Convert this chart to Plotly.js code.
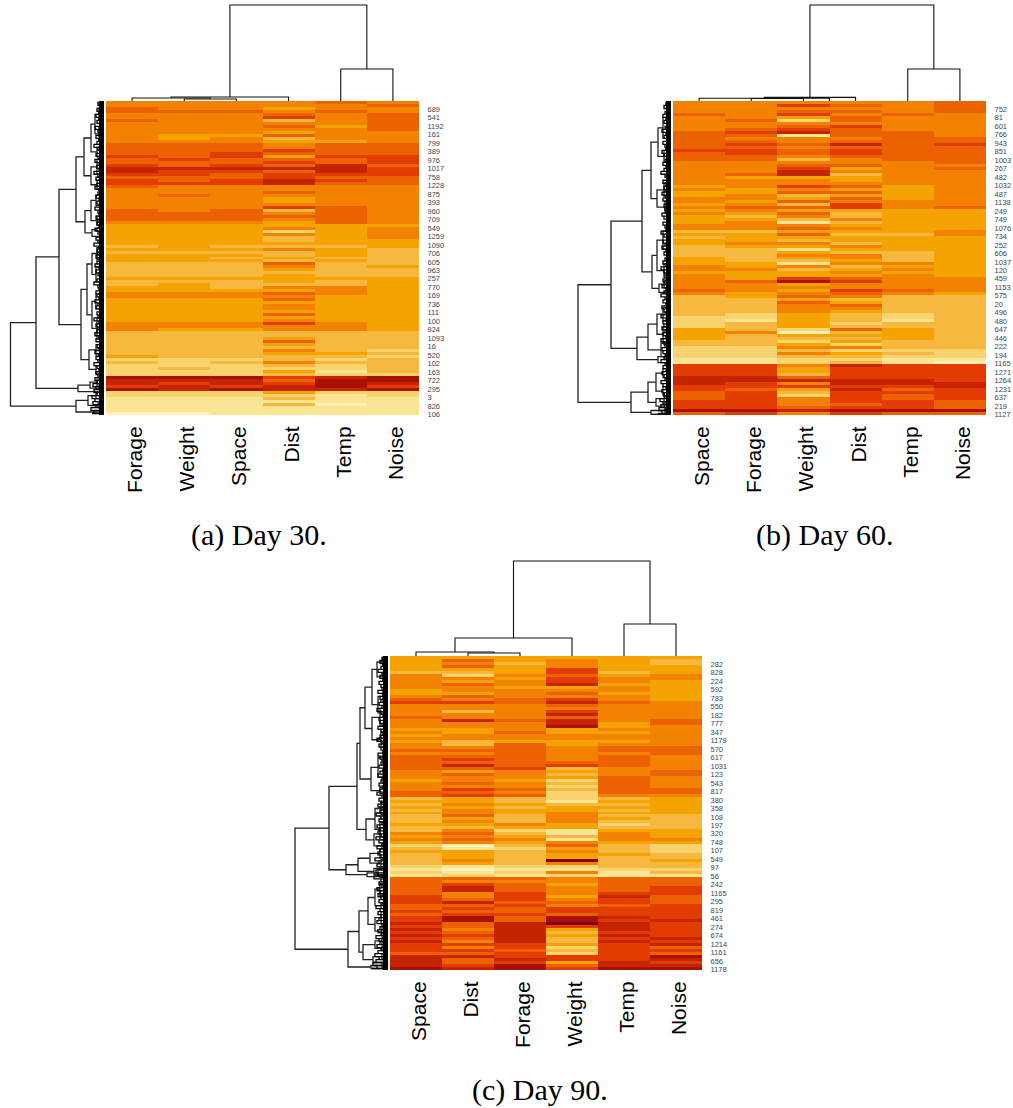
<!DOCTYPE html>
<html><head><meta charset="utf-8">
<script src="https://cdn.plot.ly/plotly-3.0.1.min.js"></script>
<style>html,body{margin:0;padding:0;background:#fff}</style></head>
<body><div id="chart" style="width:1013px;height:1108px"></div>
<script>
// Colour levels of the heat map, palest to darkest
const levelColors = ['#FEF2B6','#FBE594','#F8D36E','#F6B83E','#F5A300','#F38200','#ED6200','#E23C00','#C42400','#A81000','#80001F'];

// Day 30 (rows top to bottom, one array per column)
const d30Names = ['Forage','Weight','Space','Dist','Temp','Noise'];
const d30Forage = [5,5,6,6,5,5,6,5,5,5,5,5,5,5,6,6,6,6,7,6,6,7,8,8,7,6,7,7,6,5,5,5,5,5,5,5,6,6,6,6,5,4,4,4,4,4,4,4,3,4,3,4,4,4,3,3,3,3,3,4,3,3,4,4,5,5,4,4,4,4,4,4,4,4,5,5,5,3,3,3,3,3,3,3,3,4,2,3,2,2,2,2,9,8,8,7,9,2,2,1,1,1,1,1,0];
const d30Weight = [5,5,5,6,5,5,5,5,5,5,5,4,4,5,6,6,6,6,6,7,6,6,8,7,7,6,6,7,5,5,5,6,5,5,5,5,5,6,6,6,5,4,4,4,4,4,4,4,4,4,3,4,4,4,3,3,3,3,3,4,3,4,4,4,5,5,4,4,4,4,4,4,4,4,5,5,4,3,3,3,3,3,3,3,3,3,2,2,2,3,2,2,9,8,7,8,8,2,2,1,1,1,1,1,0];
const d30Space = [5,5,5,6,5,5,5,5,5,5,5,4,5,5,6,6,6,7,7,6,6,7,8,7,6,6,7,7,5,5,5,5,5,5,5,5,6,6,6,6,5,4,4,4,4,4,4,4,3,4,3,4,3,4,3,3,3,3,3,4,3,3,3,4,5,5,4,4,4,4,4,4,4,4,5,5,4,3,3,3,3,3,3,3,3,3,2,3,2,2,2,2,9,8,8,7,9,2,2,1,1,1,1,1,1];
const d30Dist = [5,5,4,5,6,7,3,5,6,5,4,6,3,4,5,5,7,6,4,6,7,6,8,6,7,7,8,8,5,5,6,5,4,4,5,7,3,5,6,5,4,4,5,2,5,3,3,4,3,5,3,3,4,3,6,5,4,3,4,4,4,3,5,4,6,5,6,4,5,5,4,6,4,5,7,5,5,3,3,4,6,4,3,5,4,3,3,5,3,2,4,3,7,6,7,8,8,4,2,3,1,3,1,1,1];
const d30Temp = [6,5,5,6,5,5,5,5,4,5,5,5,5,4,6,6,6,6,7,6,6,8,8,8,7,6,7,6,5,5,5,5,5,5,5,6,6,6,6,6,6,4,4,4,4,4,4,4,3,4,4,4,3,4,3,3,3,3,3,4,3,3,5,5,5,4,4,4,4,4,4,4,4,4,5,5,5,3,3,3,3,3,3,3,4,3,2,3,2,2,1,2,8,9,9,9,8,2,1,1,1,0,1,1,1];
const d30Noise = [5,6,5,5,6,6,6,6,6,6,5,5,5,5,6,6,6,6,7,7,7,6,7,7,7,6,6,6,5,5,5,5,5,5,5,5,5,5,5,5,5,4,5,5,5,5,4,4,4,3,3,3,3,3,3,4,3,3,3,4,4,4,4,4,4,4,4,4,4,4,4,4,4,4,4,4,4,3,3,3,3,3,3,2,3,2,3,3,3,3,3,2,9,9,8,7,9,2,2,1,1,1,1,1,1];
const d30Labels = ['689','541','1192','161','799','389','976','1017','758','1228','875','393','960','709','549','1259','1090','706','605','963','257','770','169','736','111','100','924','1093','16','520','102','163','722','295','3','826','106'];

// Day 60
const d60Names = ['Space','Forage','Weight','Dist','Temp','Noise'];
const d60Space = [5,5,5,5,6,5,5,5,5,5,6,6,6,6,6,6,7,6,6,6,5,5,5,5,5,5,5,5,4,5,4,4,5,5,4,5,4,5,4,4,4,5,5,3,4,3,4,4,3,3,3,3,4,4,4,5,5,4,5,5,5,5,5,6,5,3,3,3,3,3,3,3,2,2,2,2,4,4,4,4,3,3,2,2,2,2,1,1,7,7,7,7,8,8,8,7,7,6,6,6,7,7,7,9,6];
const d60Forage = [5,5,5,5,5,5,6,5,5,6,7,6,5,6,7,6,7,7,6,6,5,5,5,5,6,4,5,5,5,4,4,5,5,4,5,6,5,4,3,4,5,5,5,3,4,4,4,5,4,3,3,3,3,3,4,4,5,4,4,4,6,5,5,5,4,4,3,3,3,3,3,2,2,1,3,3,3,5,3,3,3,3,2,2,2,2,1,1,7,7,7,7,8,8,7,7,6,7,7,7,7,7,7,9,7];
const d60Weight = [5,7,5,6,7,4,2,5,6,7,8,1,5,5,6,5,6,6,5,3,5,6,7,8,8,4,5,5,7,5,6,3,4,6,3,6,4,6,5,3,1,5,6,4,6,4,3,5,4,1,4,5,4,3,1,5,3,4,4,7,9,4,5,4,5,6,4,6,5,5,5,4,4,4,4,4,2,0,4,3,2,4,5,3,5,3,2,2,5,4,4,3,6,8,5,7,4,3,2,5,5,5,6,8,5];
const d60Dist = [5,6,5,6,5,6,6,5,7,6,6,6,5,6,8,6,7,7,6,5,5,6,4,5,3,4,4,5,6,4,6,4,6,5,7,7,4,3,3,5,3,4,5,4,3,4,4,3,5,4,3,5,5,4,5,3,4,5,4,6,7,5,5,7,6,5,3,4,6,5,4,3,3,3,2,3,6,3,4,3,4,2,5,2,4,3,2,3,8,7,7,7,7,8,8,7,8,7,7,7,7,6,7,9,7];
const d60Temp = [5,5,5,5,6,5,5,5,5,5,6,6,6,6,6,6,6,6,6,6,5,5,5,5,5,5,5,5,4,4,4,4,4,5,5,5,4,4,4,4,4,4,4,4,3,4,4,4,4,4,3,3,3,3,5,4,5,4,5,5,5,5,5,6,5,3,3,3,3,3,3,2,2,1,3,3,4,4,4,4,3,3,3,2,3,2,1,1,7,7,7,7,7,8,8,7,6,7,6,6,7,7,7,9,6];
const d60Noise = [6,6,6,6,5,5,5,5,5,5,5,5,6,6,7,6,6,6,6,6,6,5,6,5,5,5,5,5,5,5,5,5,5,5,5,6,4,4,4,4,4,4,4,5,5,4,4,4,4,4,4,4,4,4,4,4,4,4,4,5,5,5,5,5,4,3,3,3,3,3,3,3,3,3,3,3,3,3,3,3,3,3,3,2,2,2,1,0,7,7,7,7,7,7,8,8,7,7,7,7,6,6,6,9,6];
const d60Labels = ['752','81','601','766','943','851','1003','267','482','1032','487','1138','249','749','1076','734','252','606','1037','120','459','1153','575','20','496','480','647','446','222','194','1165','1271','1264','1231','637','219','1127'];

// Day 90
const d90Names = ['Space','Dist','Forage','Weight','Temp','Noise'];
const d90Space = [4,4,4,4,4,3,5,5,5,5,5,4,4,5,6,7,5,5,5,5,6,5,5,5,4,5,4,5,4,5,5,6,5,6,6,6,6,6,5,5,5,4,5,5,5,6,6,3,4,3,4,3,4,3,3,3,4,3,3,5,4,5,4,2,3,4,3,3,3,3,2,1,2,1,6,6,6,6,6,6,7,7,7,6,6,7,6,7,7,8,7,8,7,8,7,8,7,7,7,6,8,8,8,8,9];
const d90Dist = [4,6,5,6,4,3,2,5,4,6,5,5,4,6,5,7,5,5,3,5,5,8,5,5,4,4,5,5,3,3,5,6,5,6,7,6,8,6,4,6,5,5,6,5,7,6,7,4,4,5,4,5,5,6,4,5,4,3,5,6,5,6,5,0,1,4,4,4,5,4,1,0,1,2,6,5,7,8,8,5,5,6,8,6,7,6,7,9,9,6,6,5,6,7,6,5,7,5,7,6,8,6,6,7,8];
const d90Forage = [4,4,3,4,4,4,5,4,5,5,4,5,5,5,6,6,5,5,5,5,5,6,5,5,5,6,5,5,4,6,6,6,6,6,6,6,6,7,5,5,5,4,5,5,6,5,6,3,3,4,3,4,4,3,3,3,5,4,2,3,4,5,4,3,2,3,3,3,3,3,2,1,2,1,6,5,6,6,6,7,7,7,6,7,6,6,7,6,6,8,8,8,8,8,8,8,7,7,6,7,7,8,7,9,9];
const d90Weight = [4,5,5,5,7,7,6,7,7,8,4,5,6,5,7,8,6,5,7,8,6,8,8,9,4,4,5,5,4,4,5,5,5,5,5,6,7,3,4,3,4,2,3,2,3,2,2,2,1,3,4,4,5,5,5,5,4,4,1,1,3,1,5,6,4,5,4,4,10,5,2,1,5,2,5,5,4,5,5,5,4,5,6,5,7,7,6,9,9,10,7,4,3,4,3,3,4,2,3,2,7,7,4,6,7];
const d90Temp = [4,4,4,4,4,3,4,5,5,4,5,5,4,5,5,6,5,5,5,5,5,5,4,4,5,4,5,5,4,5,6,6,5,6,6,6,6,5,5,5,6,6,6,6,6,6,5,3,4,3,4,3,4,3,4,3,2,3,4,5,5,5,4,3,3,3,4,3,3,3,3,2,1,1,6,6,6,6,6,7,8,7,7,6,7,7,7,8,7,8,8,8,7,8,7,8,7,7,7,7,7,7,8,8,9];
const d90Noise = [4,3,3,4,4,4,5,5,4,4,4,4,4,4,4,5,5,5,5,5,5,6,6,5,5,5,5,5,5,5,6,6,6,5,5,5,5,5,6,6,5,5,5,5,6,6,5,4,4,4,4,4,4,3,3,3,3,3,4,4,4,5,4,2,2,2,3,3,4,3,3,2,3,1,6,6,6,7,7,7,6,6,6,7,7,7,7,7,8,7,7,7,7,7,8,7,8,6,7,6,9,8,7,8,9];
const d90Labels = ['282','828','224','592','783','550','182','777','347','1179','570','617','1031','123','543','817','380','358','108','197','320','748','107','549','97','56','242','1165','295','819','461','274','674','1214','1161','656','1178'];

// Dendrograms: node = [height, upper child, lower child]; a plain number is a leaf (row or column)
const d30ColTrees = [[96,[4,[3,0,[2,1,2]],3],[32,4,5]]];
const d60ColTrees = [[96,[3.6,[2.8,0,2.5],3],[32,4,5]], [2.5,1,2]];
const d90ColTrees = [[95,[18,[4,0,[3,1,2]],3],[32,4,5]]];

const d30RowTree = [95.5,
  [70,
    [47,
      [30,
        [22,[15,[11,[7,2,6],[7,8,13]],[9,15,18]],[15,[9,19,24],[9,26,29]]],
        [21,[15,[10,[6,30,32],[6,33,36]],[9,38,41]],[14,[9,42,43],[6,44,45.5]]]],
      [25,
        [19,[14,[9,[6,47,50],[5,51,54]],[10,55,60]],[14,[10,[6,62,66],[6,67,71]],[9,72,79]]],
        [17,[10,[6,80,82],[6,83,86]],[10,[6,87,89],[5,90,91]]]]],
    [28,[16,[9,92.5,94.5],[7,95,96]],[5,96.4,97]]],
  [30,[18,[10,97,99],[8,[6,100,101],102]],[6,103,104]]];

const d60RowTree = [95,
  [62,
    [31,
      [22,[15,[10,[6,3,7],[6,10,14]],[9,16,20]],[16,[9,27,31.5],[8,33,37]]],
      [21,[16,[10,[6,41,45],[6,47,51]],[9,[6,52,56],[5,57,60]]],[14,[9,59.5,62],[7,63,64]]]],
    [36,
      [25,[16,[10,[6,67,70],[6,72,74]],[10,75,80]],[12,80.5,85]],
      [15,[8,84,86],[6,86.5,87.5]]]],
  [42,
    [25,[17,[10,[6,88,90],[6,91,93]],[10,95,98]],[17,[9,97,101],[8,100,103]]],
    [22,[8,102.5,103.5],[5,104,104.5]]]];

const d90RowTree = [95,
  [61,
    [33,
      [30,
        [25,[18,[13,[7,0,3],[7,5,8]],[12,[7,11,15],[6,16,21]]],[18,[10,17,23],[9,25,30]]],
        [19,[12,[7,31,36],[7,38,42]],[10,[6,43,44],[6,45,46]]]],
      [24,
        [15,[9,[5,47,50],[5,51,54]],[10,55,60]],
        [16,[10,57,61],[8,62,64]]]],
    [44,
      [32,[20,[10,64,67],[9,67.5,70]],[16,70.5,72.5]],
      [23,[12,71,73],[10,73,73.5]]]],
  [42,
    [31,
      [22,[15,[10,[6,74,77],[6,78,81]],[9,82,84]],[15,[9,85,89],[8,90,93]]],
      [27,[15,[8,93.5,96],[8,96.5,98]],[17,[8,99,101],[6,101.5,102.5]]]],
    [19,[8,102.5,103.5],[5,103.5,104.5]]]];

// Finest leaf merges, height per row
const d30Leaf = [8,6,9,7,10,7,9,6,11,8,7,10,7,9,12,8,6,10,8,11,7,9,7,12,8,10,6,9,11,7,8,10,7,9,6,11,8,7,10,8,9,7,11,8,6,10,8,12,7,9,8,10,6,9,11,7,10,8,6,9,12,8,7,10,9,7,11,8,10,6,9,8,12,7,10,8,9,11,7,10,6,9,8,11,7,10,8,12,9,7,10,8,11,9,13,10,12,9,14,11,13,10,15,12,14];
const d60Leaf = [7,9,6,8,10,7,9,6,8,11,7,9,6,10,8,7,11,9,6,8,10,7,9,12,8,6,10,7,9,8,11,7,10,6,9,8,7,11,9,6,10,8,7,12,9,6,10,8,11,7,9,6,8,10,7,12,9,8,6,10,8,11,7,9,12,8,10,7,11,9,8,12,7,10,9,11,8,10,7,12,9,8,11,10,7,9,12,8,10,7,11,9,8,12,10,7,11,9,8,13,10,12,14,11,15];
const d90Leaf = [8,10,7,9,12,8,10,7,11,9,8,12,7,10,9,11,8,13,9,7,11,10,8,12,9,7,10,13,8,11,9,7,12,10,8,9,11,7,10,12,8,9,11,7,10,13,8,11,9,12,8,10,14,9,11,8,13,10,12,9,14,11,8,13,10,12,9,15,11,13,10,14,12,16,9,11,8,13,10,12,9,11,8,14,10,12,9,11,13,8,10,12,9,14,11,10,13,9,12,15,11,14,17,13,18];

const panels = [
  {names:d30Names, cols:[d30Forage,d30Weight,d30Space,d30Dist,d30Temp,d30Noise], labels:d30Labels, colTrees:d30ColTrees, rowTree:d30RowTree, leaf:d30Leaf, left:106, right:419, top:101, bottom:415},
  {names:d60Names, cols:[d60Space,d60Forage,d60Weight,d60Dist,d60Temp,d60Noise], labels:d60Labels, colTrees:d60ColTrees, rowTree:d60RowTree, leaf:d60Leaf, left:673, right:986, top:101, bottom:415},
  {names:d90Names, cols:[d90Space,d90Dist,d90Forage,d90Weight,d90Temp,d90Noise], labels:d90Labels, colTrees:d90ColTrees, rowTree:d90RowTree, leaf:d90Leaf, left:390, right:702, top:656, bottom:970}
];
const captions = [['(a) Day 30.',258.5,535],['(b) Day 60.',824,535],['(c) Day 90.',540,1090]];

const W = 1013, H = 1108, reach = 100;
const FONT = 'Liberation Sans, Arial, sans-serif';
const colorscale = levelColors.map((c,i)=>[i/(levelColors.length-1),c]);

function segs(node, leafH, out){
  if (typeof node === 'number') return {p:node, h:leafH};
  const a = segs(node[1], leafH, out), b = segs(node[2], leafH, out), h = node[0];
  out.h.push(a.h,h,h,b.h,null); out.p.push(a.p,a.p,b.p,b.p,null);
  return {p:(a.p+b.p)/2, h:h};
}

const data = [], layout = {width:W, height:H, margin:{l:0,r:0,t:0,b:0}, paper_bgcolor:'#fff', plot_bgcolor:'#fff', showlegend:false, annotations:[]};
const noAxis = {showgrid:false, zeroline:false, showticklabels:false, ticks:'', showline:false};

panels.forEach((P,k)=>{
  const xh = 2*k+1, xd = 2*k+2, yh = 2*k+1, yd = 2*k+2;
  const nm = (t,i)=> t+(i===1?'':i), key = (t,i)=> t+'axis'+(i===1?'':i);
  const n = P.cols[0].length;
  const rows = [...Array(n).keys()];
  const z = rows.map(r=>P.cols.map(c=>c[r]));
  const colIdx = P.names.map((_,i)=>i);
  data.push({type:'heatmap', z:z, x:colIdx, y:rows, xaxis:nm('x',xh), yaxis:nm('y',yh), colorscale:colorscale, zmin:0, zmax:levelColors.length-1, showscale:false, hoverinfo:'skip'});

  // top dendrogram
  const t = {h:[],p:[]}; P.colTrees.forEach(tr=>segs(tr,0,t));
  data.push({type:'scatter', mode:'lines', x:t.p, y:t.h, xaxis:nm('x',xh), yaxis:nm('y',yd), line:{color:'#111',width:1.1}, hoverinfo:'skip'});

  // left dendrogram
  const l = {h:[],p:[]}; segs(P.rowTree,5,l);
  data.push({type:'scatter', mode:'lines', x:l.h, y:l.p, xaxis:nm('x',xd), yaxis:nm('y',yh), line:{color:'#222',width:1.3}, hoverinfo:'skip'});

  // dense leaf merges
  const fx=[], fy=[];
  rows.forEach(r=>{fx.push(2,P.leaf[r],P.leaf[r]); fy.push(r,r,r+1>=n?r:r+1);});
  data.push({type:'scatter', mode:'lines', x:fx, y:fy, xaxis:nm('x',xd), yaxis:nm('y',yh), line:{color:'#000',width:1.3}, hoverinfo:'skip'});
  data.push({type:'scatter', mode:'lines', x:[4.5,4.5], y:[-0.5,n-0.5], xaxis:nm('x',xd), yaxis:nm('y',yh), line:{color:'#000',width:5}, hoverinfo:'skip'});

  layout[key('x',xh)] = Object.assign({}, noAxis, {domain:[P.left/W,P.right/W], range:[-0.5,5.5], anchor:nm('y',yh), side:'bottom',
     showticklabels:true, tickmode:'array', tickvals:colIdx.map(i=>i+0.06), ticktext:P.names, tickangle:-90, ticks:'outside', ticklen:2, tickcolor:'rgba(0,0,0,0)',
     tickfont:{family:FONT,size:21,color:'#000'}});
  layout[key('x',xd)] = Object.assign({}, noAxis, {domain:[(P.left-reach)/W,P.left/W], range:[reach,0], anchor:nm('y',yh)});
  layout[key('y',yh)] = Object.assign({}, noAxis, {domain:[1-P.bottom/H,1-P.top/H], range:[n-0.5,-0.5], anchor:nm('x',xh), side:'right',
     showticklabels:true, tickmode:'array',
     tickvals:P.labels.map((_,i)=>2.2+i*(102.2/(P.labels.length-1))), ticktext:P.labels, ticks:'outside', ticklen:6, tickcolor:'rgba(0,0,0,0)',
     tickfont:{family:FONT,size:7.5,color:'#3d4650'}});
  layout[key('y',yd)] = Object.assign({}, noAxis, {domain:[1-P.top/H,1-(P.top-reach)/H], range:[0,reach], anchor:nm('x',xh)});
});

captions.forEach(c=>layout.annotations.push({text:c[0], x:c[1]/W, y:1-c[2]/H, xref:'paper', yref:'paper', showarrow:false, xanchor:'center', yanchor:'middle', font:{family:'Liberation Serif, serif', size:30, color:'#000'}}));

Plotly.newPlot('chart', data, layout, {displayModeBar:false, staticPlot:true});
</script></body></html>
